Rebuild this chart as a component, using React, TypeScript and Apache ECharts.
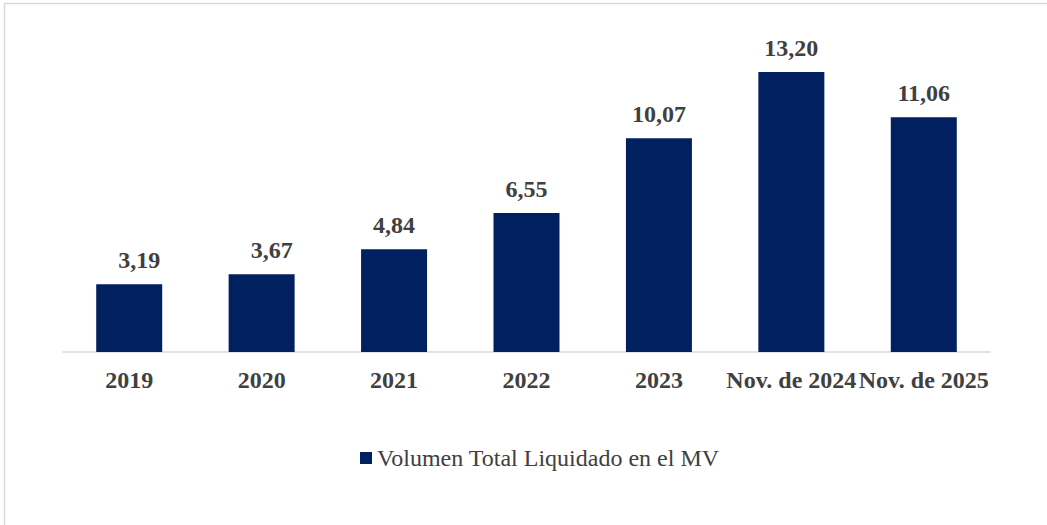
import React, { useEffect, useRef } from "react";
import * as echarts from "echarts";

const categories = ["2019", "2020", "2021", "2022", "2023", "Nov. de 2024", "Nov. de 2025"];
const values = [3.19, 3.67, 4.84, 6.55, 10.07, 13.2, 11.06];
const seriesName = "Volumen Total Liquidado en el MV";

export default function App() {
  const ref = useRef<HTMLDivElement>(null);
  useEffect(() => {
    const chart = echarts.init(ref.current!, null, { renderer: "svg" });
    chart.setOption({
      animation: false,
      backgroundColor: "#ffffff",
      textStyle: { fontFamily: "Liberation Serif" },
      graphic: [
        {
          type: "rect",
          shape: { x: 4.5, y: 3.5, width: 1200, height: 700 },
          style: { fill: "none", stroke: "#d9d9d9", lineWidth: 1.5 },
          silent: true,
        },
      ],
      grid: { left: 63, right: 57, top: 55, bottom: 173, containLabel: false },
      legend: {
        left: 355,
        top: 441,
        itemWidth: 12,
        itemHeight: 12,
        itemGap: 5,
        icon: "rect",
        textStyle: { fontFamily: "Liberation Serif", fontSize: 24, color: "#404040" },
        data: [seriesName],
      },
      xAxis: {
        type: "category",
        data: categories,
        axisLine: { lineStyle: { color: "#d9d9d9", width: 1.5 } },
        axisTick: { show: false },
        axisLabel: {
          fontFamily: "Liberation Serif",
          fontWeight: "bold",
          fontSize: 24,
          color: "#404040",
          margin: 16,
          interval: 0,
        },
      },
      yAxis: {
        type: "value",
        min: 0,
        max: 14,
        show: false,
        splitLine: { show: false },
      },
      series: [
        {
          name: seriesName,
          type: "bar",
          data: values.map((v, i) => ({
            value: v,
            label: i < 2 ? { offset: [10, 0] } : undefined,
          })),
          barWidth: 66,
          itemStyle: { color: "#002060" },
          label: {
            show: true,
            position: "top",
            distance: 12,
            fontFamily: "Liberation Serif",
            fontWeight: "bold",
            fontSize: 24,
            color: "#404040",
            formatter: (p: any) => Number(p.value).toFixed(2).replace(".", ","),
          },
        },
      ],
    });
    return () => chart.dispose();
  }, []);
  return (
    <div
      ref={ref}
      style={{ position: "fixed", left: 0, top: 0, width: 1047, height: 525 }}
    />
  );
}
